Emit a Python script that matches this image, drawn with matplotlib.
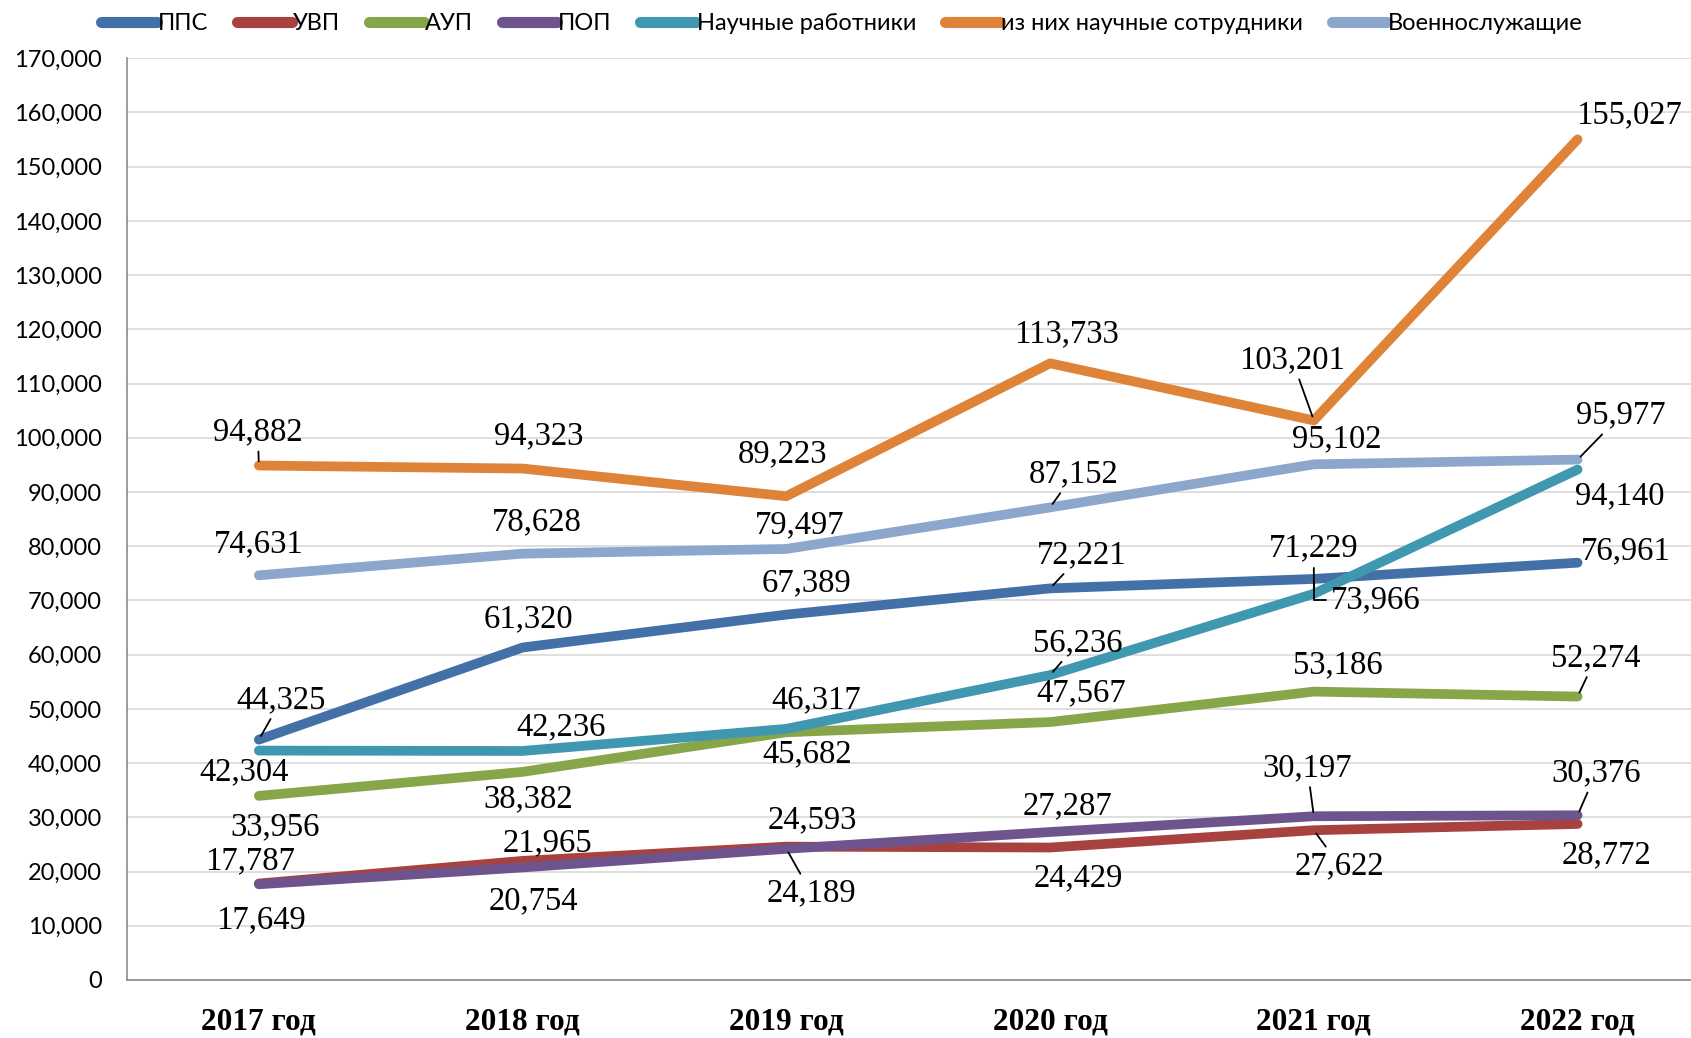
import matplotlib
matplotlib.use("Agg")
import matplotlib.pyplot as plt
from matplotlib.ticker import FuncFormatter

# =======================
# Данные
# =======================
years = ["2017 год", "2018 год", "2019 год", "2020 год", "2021 год", "2022 год"]

pps = [44325, 61320, 67389, 72221, 73966, 76961]
uvp = [17787, 21965, 24593, 24429, 27622, 28772]
aup = [33956, 38382, 45682, 47567, 53186, 52274]
pop = [17649, 20754, 24189, 27287, 30197, 30376]
nauch_rab = [42304, 42236, 46317, 56236, 71229, 94140]
nauch_sotr = [94882, 94323, 89223, 113733, 103201, 155027]
voen = [74631, 78628, 79497, 87152, 95102, 95977]

names = ["ППС", "УВП", "АУП", "ПОП", "Научные работники",
         "из них научные сотрудники", "Военнослужащие"]
colors = ["#4470A8", "#A8423F", "#87A64A", "#6E548D", "#3F97B0", "#DF8338", "#8DA6CC"]

# смещения подписей (пиксели исходной картинки: dx вправо, dy вниз) и выноски
label_offsets = [
    [(21, -37), (5, -26), (19, -29), (29, -31), (57, 20), (3, -11)],
    [(-8, -21), (23, -17), (24, -25), (26, 28), (24, 33), (27, 29)],
    [(15, 29), (5, 25), (19, 20), (29, -27), (22, -25), (17, -36)],
    [(2, 33), (10, 31), (23, 41), (16, -24), (-6, -45), (17, -39)],
    [(-14, 20), (36, -22), (28, -27), (26, -30), (0, -42), (39, 25)],
    [(-1, -31), (15, -30), (-4, -39), (15, -27), (-20, -56), (48, -23)],
    [(0, -29), (13, -29), (12, -22), (22, -31), (21, -23), (40, -41)],
]
leaders = {(0, 0), (0, 3), (0, 4), (1, 4), (2, 5), (3, 2), (3, 4), (3, 5),
           (4, 3), (4, 4), (5, 0), (5, 4), (6, 3), (6, 5)}

series = [pps, uvp, aup, pop, nauch_rab, nauch_sotr, voen]
x = list(range(len(years)))

fig = plt.figure(figsize=(16.91, 10.38), dpi=100)
ax = fig.add_axes([0.0751, 0.0559, 0.9249, 0.888])

for i, (vals, name, col) in enumerate(zip(series, names, colors)):
    ax.plot(x, vals, color=col, lw=7, solid_capstyle="round",
            solid_joinstyle="round", label=name, zorder=3 + i)

k = 0.7765  # px -> pt
for i, vals in enumerate(series):
    for j, v in enumerate(vals):
        dx, dy = label_offsets[i][j]
        ha = "left" if (i == 0 and j == 5) else "center"
        arrow = None
        if (i, j) in leaders:
            arrow = dict(arrowstyle="-", color="black", lw=1.3, shrinkA=1, shrinkB=3)
            if (i, j) == (0, 4):
                arrow["connectionstyle"] = "angle,angleA=0,angleB=90,rad=0"
        ax.annotate(f"{v:,}", xy=(j, v), xytext=(dx * k, -dy * k),
                    textcoords="offset points", ha=ha, va="center",
                    fontsize=23.5, family="Liberation Serif", color="black",
                    arrowprops=arrow, zorder=20)

ax.set_xlim(-0.5, 5.43)
ax.set_ylim(0, 170000)
ax.set_yticks(range(0, 170001, 10000))
ax.yaxis.set_major_formatter(FuncFormatter(lambda v, p: f"{int(v):,}"))
ax.set_xticks(x)
ax.set_xticklabels(years, fontsize=22.5, family="Liberation Serif", fontweight="bold")
ax.tick_params(axis="y", length=0, pad=18, labelsize=17)
ax.tick_params(axis="x", length=0, pad=20)
for lab in ax.get_yticklabels():
    lab.set_family("Lato")

ax.grid(axis="y", color="#d9d9d9", lw=1.2, zorder=0)
ax.set_axisbelow(True)
for s in ["top", "right"]:
    ax.spines[s].set_visible(False)
ax.spines["left"].set_color("#8c8c8c")
ax.spines["bottom"].set_color("#8c8c8c")
ax.spines["left"].set_linewidth(1.2)
ax.spines["bottom"].set_linewidth(1.2)

leg = fig.legend(loc="center", bbox_to_anchor=(0.498, 0.977), ncol=7,
                 frameon=False, handlelength=2.35, handletextpad=0.05,
                 columnspacing=1.2, prop={"family": "Lato", "size": 17})
for h in leg.get_lines():
    h.set_linewidth(8)
    h.set_solid_capstyle("round")

fig.savefig("out.png", dpi=100)
